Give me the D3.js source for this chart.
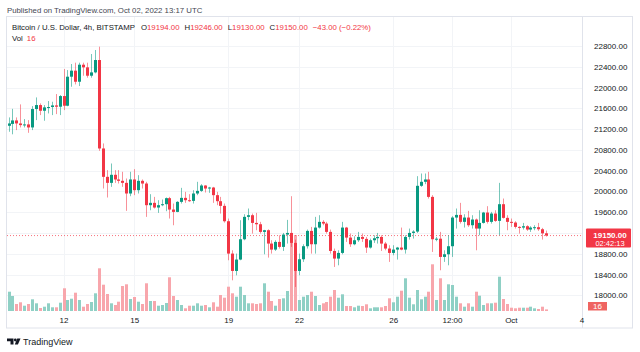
<!DOCTYPE html>
<html>
<head>
<meta charset="utf-8">
<script src="https://cdn.jsdelivr.net/npm/d3@7"></script>
<style>
body { margin: 0; background: #fff; }
svg { display: block; }
text { font-family: "Liberation Sans", Arial, sans-serif; }
</style>
</head>
<body>
<div id="chart"></div>
<script>
// 4h bars, BTC/USD Bitstamp, first bar opens Sep 9 2022 16:00 UTC
var startTime = Date.UTC(2022, 8, 9, 16);
var barMs = 4 * 3600 * 1000;

var opens = [21264,21300,21367,21309,21277,21290,21232,21586,21663,21553,21618,21625,21656,21631,21836,21650,22209,22325,22112,22440,
  22389,22228,22292,22530,20827,20281,20165,20320,20230,20204,20165,19960,20230,20024,20204,20152,19735,19780,19690,19735,
  19754,19870,19651,19606,19799,19876,19831,19818,19960,20011,20114,20056,20075,19928,19812,19722,19426,18803,18469,18688,
  19079,19510,19542,19394,19368,19221,19253,18996,18880,19028,18932,19169,19201,19009,18469,18694,18945,19240,18983,19304,
  19414,19381,19221,18854,18707,18816,19304,19111,18983,19060,19124,19086,18919,19060,19099,19124,18996,18900,18816,18880,
  18919,18880,19124,19201,19227,20108,20185,20230,19895,19079,19090,18739,18790,18945,19497,19548,19414,19497,19349,19459,
  19285,19394,19593,19414,19574,19433,19754,19491,19414,19401,19317,19304,19330,19266,19304,19311,19272,19194];
var highs = [21425,21590,21425,21676,21393,21373,21643,21810,21695,21663,21740,21727,21875,21856,22357,22337,22453,22479,22479,22479,
  22479,22646,22723,22787,20924,20410,20538,20410,20410,20378,20249,20378,20429,20313,20230,20185,19947,19895,19831,19844,
  19883,19895,19767,19812,20069,19992,19947,20024,20185,20140,20120,20088,20088,19992,19895,19767,19478,18867,18803,19446,
  19561,19671,19574,19587,19414,19260,19270,19060,19060,19156,19201,19452,19908,19073,18803,18983,19266,19317,19510,19542,
  19446,19414,19266,18900,18867,19414,19317,19189,19136,19221,19189,19124,19092,19156,19201,19156,19028,18964,18964,18932,
  19304,19156,19285,19253,20294,20345,20345,20378,19928,19124,19221,18867,19156,19523,19671,19780,19561,19626,19542,19478,
  19638,19606,19716,19606,19638,20165,19863,19542,19478,19426,19330,19394,19349,19330,19349,19394,19298,19246];
var lows = [21149,21100,21181,21232,21232,21129,21181,21373,21470,21361,21502,21470,21489,21470,21566,21640,22016,22061,22029,22228,
  22190,22190,22273,20782,20056,19883,20088,20165,20152,20088,19626,19908,19928,19960,20056,19510,19638,19671,19587,19716,
  19619,19478,19349,19600,19767,19780,19799,19767,19928,19992,19979,19973,19780,19735,19574,19400,18675,18289,18385,18675,
  19060,19446,19189,19253,19189,18790,18726,18803,18854,18900,18854,18996,18932,18160,18385,18643,18900,18803,18803,19285,
  19349,19189,18803,18546,18578,18790,19028,18932,18964,19028,19028,18816,18900,19009,18996,18854,18867,18643,18771,18688,
  18867,18803,19073,19092,19201,20088,20140,19863,18835,19041,18482,18643,18578,18739,19285,19381,19304,19317,19285,18867,
  19156,19381,19381,19381,19414,19156,19478,19253,19317,19285,19189,19266,19240,19221,19253,19240,19073,19130];
var closes = [21309,21367,21309,21277,21290,21232,21586,21663,21553,21618,21625,21656,21631,21836,21650,22209,22325,22112,22440,22389,
  22228,22292,22530,20827,20281,20165,20320,20230,20204,20165,19960,20230,20024,20204,20152,19735,19780,19690,19735,19754,
  19870,19651,19606,19799,19876,19831,19818,19960,20011,20114,20056,20075,19928,19812,19722,19426,18803,18469,18688,19079,
  19510,19542,19394,19368,19221,19253,18996,18880,19028,18932,19169,19201,19009,18469,18694,18945,19240,18983,19304,19414,
  19381,19221,18854,18707,18816,19304,19111,18983,19060,19124,19086,18919,19060,19099,19124,18996,18900,18816,18880,18919,
  18880,19124,19201,19227,20108,20185,20230,19895,19079,19090,18739,18790,18945,19497,19548,19414,19497,19349,19459,19285,
  19394,19593,19414,19574,19433,19754,19491,19414,19401,19317,19304,19330,19266,19304,19311,19272,19193,19150];
var volumes = [193,150,70,87,53,70,117,77,30,43,77,37,37,83,227,110,123,183,110,43,
  70,90,177,427,263,170,77,60,93,250,267,120,140,93,70,277,100,100,53,60,
  80,337,150,110,60,27,53,53,77,53,60,37,87,43,160,133,243,177,143,243,
  160,77,77,70,77,277,193,100,53,120,127,200,777,760,110,143,160,193,150,60,
  77,90,143,210,133,167,50,50,37,53,50,67,27,37,37,37,50,127,87,143,
  203,327,133,67,210,117,143,193,467,110,327,110,267,260,143,77,43,77,43,193,
  153,60,77,77,83,343,120,70,33,27,33,33,33,43,27,20,43,16];

var priceTicks = [18000,18400,18800,19200,19600,20000,20400,20800,21200,21600,22000,22400,22800];
var timeTickDates = [Date.UTC(2022,8,12), Date.UTC(2022,8,15), Date.UTC(2022,8,19), Date.UTC(2022,8,22),
  Date.UTC(2022,8,26), Date.UTC(2022,8,28,12), Date.UTC(2022,9,1), Date.UTC(2022,9,4)];
var timeTickLabels = ["12", "15", "19", "22", "26", "12:00", "Oct", "4"];

var UP = "#089981", DOWN = "#f23645";
var UP_VOL = "#8fd0c5", DOWN_VOL = "#f8a6ac";
var GRID = "#f2f4f7", BORDER = "#e0e3eb", TEXT = "#131722";

var width = 640, height = 352;
var pane = {left: 7, right: 583, top: 17, bottom: 311};

var bars = opens.map(function(o, i) {
  return {t: new Date(startTime + i * barMs), o: o, h: highs[i], l: lows[i], c: closes[i], v: volumes[i]};
});
var last = bars[bars.length - 1];

var svg = d3.select("#chart").append("svg")
  .attr("width", width)
  .attr("height", height);

var x = d3.scaleUtc()
  .domain([new Date(Date.UTC(2022,8,12)), new Date(Date.UTC(2022,9,4))])
  .range([63.5, 581.5]);
var y = d3.scaleLinear().domain([18000, 22800]).range([295.3, 46]);
var yVol = d3.scaleLinear().domain([0, 780]).range([pane.bottom, 233]);

// header
svg.append("text")
  .attr("x", 7).attr("y", 12.5)
  .attr("font-size", "7.8px")
  .attr("fill", "#434651")
  .text("Published on TradingView.com, Oct 02, 2022 13:17 UTC");

// grid
var grid = svg.append("g");
grid.selectAll("hline").data(priceTicks).enter().append("line")
  .attr("x1", pane.left).attr("x2", pane.right)
  .attr("y1", d => Math.round(y(d)) + 0.5).attr("y2", d => Math.round(y(d)) + 0.5)
  .attr("stroke", GRID);
grid.selectAll("vline").data(timeTickDates).enter().append("line")
  .attr("x1", d => Math.round(x(d)) + 0.5).attr("x2", d => Math.round(x(d)) + 0.5)
  .attr("y1", pane.top).attr("y2", pane.bottom)
  .attr("stroke", GRID);

// frame
svg.append("rect")
  .attr("x", 6.5).attr("y", 16.5)
  .attr("width", 626).attr("height", 311.5)
  .attr("fill", "none").attr("stroke", BORDER);
svg.append("line")
  .attr("x1", pane.right - 0.5).attr("x2", pane.right - 0.5)
  .attr("y1", 16.5).attr("y2", 328)
  .attr("stroke", BORDER);

var cx = d => Math.round(x(d.t));

// volume
svg.append("g")
  .selectAll("rect")
  .data(bars)
  .enter()
  .append("rect")
  .attr("x", d => cx(d) - 1)
  .attr("width", 3)
  .attr("y", d => Math.min(yVol(d.v), pane.bottom - 1))
  .attr("height", d => Math.max(1, pane.bottom - yVol(d.v)))
  .attr("fill", d => d.c >= d.o ? UP_VOL : DOWN_VOL);

// last price line
svg.append("line")
  .attr("x1", pane.left).attr("x2", pane.right - 1)
  .attr("y1", y(last.c)).attr("y2", y(last.c))
  .attr("stroke", DOWN).attr("stroke-opacity", 0.7)
  .attr("stroke-dasharray", "1,2");

// wicks
svg.append("g")
  .selectAll("rect")
  .data(bars)
  .enter()
  .append("rect")
  .attr("x", d => cx(d))
  .attr("width", 1)
  .attr("y", d => y(d.h))
  .attr("height", d => y(d.l) - y(d.h))
  .attr("fill", d => d.c >= d.o ? UP : DOWN)
  .attr("opacity", 0.55);

// bodies
svg.append("g")
  .selectAll("rect")
  .data(bars)
  .enter()
  .append("rect")
  .attr("x", d => cx(d) - 1)
  .attr("width", 3)
  .attr("y", d => y(Math.max(d.o, d.c)))
  .attr("height", d => Math.max(1, Math.abs(y(d.o) - y(d.c))))
  .attr("fill", d => d.c >= d.o ? UP : DOWN);

// price axis
var yAxis = svg.append("g")
  .attr("transform", "translate(" + pane.right + ",0)")
  .call(d3.axisRight(y)
    .tickValues(priceTicks.filter(d => Math.abs(y(d) - y(last.c)) > 9))
    .tickFormat(d3.format(".2f"))
    .tickSize(0)
    .tickPadding(11));
yAxis.select(".domain").remove();
yAxis.selectAll("text")
  .attr("font-size", "8px")
  .attr("fill", TEXT)
  .attr("font-family", "Liberation Sans, Arial, sans-serif");

// time axis
var xAxis = svg.append("g")
  .attr("transform", "translate(0," + pane.bottom + ")")
  .call(d3.axisBottom(x)
    .tickValues(timeTickDates.map(d => new Date(d)))
    .tickFormat((d, i) => timeTickLabels[i])
    .tickSize(0)
    .tickPadding(6));
xAxis.select(".domain").remove();
xAxis.selectAll("text")
  .attr("font-size", "8px")
  .attr("fill", TEXT)
  .attr("font-family", "Liberation Sans, Arial, sans-serif");

// last price badge
var py = y(last.c);
svg.append("rect")
  .attr("x", 586).attr("y", py - 7)
  .attr("width", 45).attr("height", 19)
  .attr("rx", 1)
  .attr("fill", DOWN);
svg.append("text")
  .attr("x", 610).attr("y", py + 2.5)
  .attr("text-anchor", "middle")
  .attr("font-size", "8px").attr("font-weight", "bold")
  .attr("fill", "#fff")
  .text(d3.format(".2f")(last.c));
svg.append("text")
  .attr("x", 610).attr("y", py + 10.5)
  .attr("text-anchor", "middle")
  .attr("font-size", "7.5px")
  .attr("fill", "#fff")
  .text("02:42:13");

// volume badge
svg.append("rect")
  .attr("x", 588).attr("y", 302)
  .attr("width", 19).attr("height", 8.5)
  .attr("fill", "#ef6461");
svg.append("text")
  .attr("x", 597.5).attr("y", 309)
  .attr("text-anchor", "middle")
  .attr("font-size", "8px")
  .attr("fill", "#fff")
  .text(last.v);

// legend
var fmt = d3.format(".2f");
var prev = bars[bars.length - 2];
var chg = last.c - prev.c;
var legend = svg.append("text")
  .attr("x", 12).attr("y", 29.5)
  .attr("font-size", "7.8px")
  .attr("fill", TEXT);
legend.append("tspan").text("Bitcoin / U.S. Dollar, 4h, BITSTAMP");
[["O", last.o], ["H", last.h], ["L", last.l], ["C", last.c]].forEach(function(p, i) {
  legend.append("tspan").attr("dx", i == 0 ? 6 : 5).text(p[0]);
  legend.append("tspan").attr("fill", DOWN).text(fmt(p[1]));
});
legend.append("tspan").attr("dx", 5).attr("fill", DOWN)
  .text(fmt(chg).replace("-", "\u2212") + " (" + d3.format(".2f")(chg / prev.c * 100).replace("-", "\u2212") + "%)");

var volLegend = svg.append("text")
  .attr("x", 12).attr("y", 40.5)
  .attr("font-size", "7.8px")
  .attr("fill", TEXT);
volLegend.append("tspan").text("Vol");
volLegend.append("tspan").attr("dx", 4).attr("fill", DOWN).text(last.v);

// TradingView logo
var logo = svg.append("g").attr("fill", TEXT);
logo.append("path").attr("d", "M7,338.5h6.5v6h-3v-3.2h-3.5z");
logo.append("circle").attr("cx", 15.3).attr("cy", 340).attr("r", 1.4);
logo.append("path").attr("d", "M17.2,338.5h3.3l-2.6,6h-3.1z");
svg.append("text")
  .attr("x", 23).attr("y", 344.5)
  .attr("font-size", "9px")
  .attr("fill", TEXT)
  .text("TradingView");
</script>
</body>
</html>
